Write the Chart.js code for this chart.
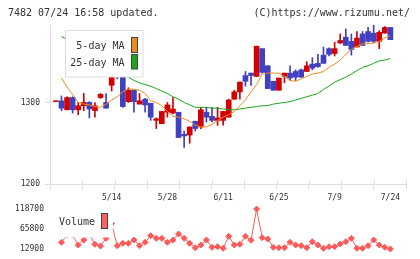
<!DOCTYPE html>
<html>
<head>
<meta charset="utf-8">
<script src="https://cdn.jsdelivr.net/npm/chart.js@4.4.1/dist/chart.umd.min.js"></script>
<style>
  html, body { margin: 0; padding: 0; background: #fff; }
  #wrap { position: relative; width: 420px; height: 259px; overflow: hidden; font-family: 'DejaVu Sans Mono', monospace; }
  #priceBox { position: absolute; left: 0; top: 0; width: 420px; height: 205px; }
  #volBox { position: absolute; left: 0; top: 203px; width: 420px; height: 56px; }
  .head { position: absolute; top: 6px; font-size: 10px; line-height: 13px; color: #333; }
</style>
</head>
<body>
<div id="wrap">
  <div id="priceBox"><canvas id="priceChart"></canvas></div>
  <div id="volBox"><canvas id="volumeChart"></canvas></div>
  <div class="head" style="left:8px">7482 07/24 16:58 updated.</div>
  <div class="head" style="right:10px">(C)https://www.rizumu.net/</div>
</div>
<script>
const dates = ['4/22','4/23','4/24','4/25','4/26','5/7','5/8','5/9','5/10','5/13',
  '5/14','5/15','5/16','5/17','5/20','5/21','5/22','5/23','5/24','5/27',
  '5/28','5/29','5/30','5/31','6/3','6/4','6/5','6/6','6/7','6/10',
  '6/11','6/12','6/13','6/14','6/17','6/18','6/19','6/20','6/21','6/24',
  '6/25','6/26','6/27','6/28','7/1','7/2','7/3','7/4','7/5','7/8',
  '7/9','7/10','7/11','7/12','7/16','7/17','7/18','7/19','7/22','7/23','7/24'];

const open = [1301,1302,1291,1306,1291,1296,1300,1290,1306,1300,
  1321,1336,1333,1301,1315,1298,1304,1299,1278,1274,
  1288,1287,1288,1261,1260,1277,1270,1288,1283,1278,
  1278,1282,1304,1313,1333,1336,1332,1366,1345,1326,
  1315,1332,1336,1338,1340,1338,1347,1348,1358,1366,
  1360,1373,1380,1375,1368,1384,1387,1385,1375,1385,1392];
const high = [1302,1308,1307,1307,1300,1311,1301,1300,1311,1311,
  1344,1342,1334,1318,1315,1311,1305,1299,1281,1289,
  1300,1306,1288,1265,1270,1277,1294,1294,1294,1294,
  1289,1304,1315,1325,1338,1336,1369,1366,1345,1326,
  1330,1336,1345,1340,1341,1350,1355,1359,1368,1367,
  1374,1384,1390,1384,1387,1387,1392,1395,1388,1393,1392];
const low = [1301,1290,1291,1287,1285,1290,1281,1282,1305,1293,
  1314,1329,1294,1300,1288,1298,1288,1278,1268,1274,
  1282,1286,1257,1245,1250,1265,1268,1276,1276,1272,
  1272,1282,1304,1304,1320,1321,1332,1336,1317,1315,
  1315,1324,1327,1327,1331,1338,1340,1343,1348,1357,
  1357,1372,1370,1358,1368,1370,1374,1373,1366,1385,1377];
const close = [1302,1293,1306,1291,1296,1300,1292,1296,1310,1293,
  1336,1334,1295,1315,1301,1302,1297,1282,1280,1289,
  1297,1292,1257,1259,1270,1268,1291,1282,1278,1281,
  1289,1303,1313,1325,1326,1333,1369,1337,1317,1315,
  1330,1336,1330,1331,1331,1345,1342,1344,1348,1359,
  1366,1376,1370,1365,1379,1370,1375,1375,1386,1392,1377];

const ma5 = [null,1330,1319,1310,1300,1298,1297,1295,1294,1298,
  1303,1307,1313,1317,1316,1315,1311,1302,1300,1296,
  1289,1283,1282,1280,1277,1272,1270,1270,1273,1278,
  1282,1285,1289,1296,1303,1313,1322,1335,1336,1336,
  1336,1332,1327,1326,1329,1332,1335,1336,1338,1343,
  1347,1352,1359,1365,1369,1372,1372,1373,1375,1379,1382];
const ma25 = [null,1381,1377,1373,1368,1364,1360,1356,1352,1348,
  1343,1339,1335,1331,1327,1324,1322,1320,1317,1314,
  1311,1307,1304,1300,1297,1294,1294,1294,1293,1293,
  1292,1291,1291,1292,1293,1294,1295,1296,1296,1298,
  1299,1300,1301,1303,1305,1307,1309,1311,1316,1320,
  1325,1328,1331,1335,1339,1343,1345,1348,1351,1352,1354];

const volume = [null,30600,50000,50000,23500,36700,52000,25300,20800,41200,
  80000,21600,28000,28000,36700,21600,30600,48100,41200,41200,
  30600,36700,52600,41200,28000,16300,23500,36700,17400,19000,
  14800,46500,23500,25300,46500,35900,118700,42800,39400,17400,
  16300,16300,30600,23500,21600,16300,32200,23500,14800,19000,
  19000,26100,32200,41200,14800,14800,21600,36700,23500,17400,12900];

const priceTicks = [1200, 1300];
const volumeTicks = [12900, 65800, 118700];
const dateTickIdx = [10, 20, 30, 40, 50, 60];

const UP = '#d40000', DOWN = '#4040c0';
const X_MIN = -1.06, X_MAX = 62.8;

Chart.defaults.font.family = "'DejaVu Sans Mono', monospace";
Chart.defaults.font.size = 8;
Chart.defaults.color = '#333';

// fixed width for the value axes, no extra room asked for the tick labels
const fixAxis = s => { s.width = 50; s.paddingTop = 0; s.paddingBottom = 0; };

// legend boxes drawn on top of the data, like the original
const boxLegend = {
  id: 'boxLegend',
  afterDatasetsDraw(chart, args, opts) {
    const ctx = chart.ctx;
    ctx.save();
    const b = opts.box;
    ctx.fillStyle = '#fff';
    ctx.fillRect(b.x, b.y, b.w, b.h);
    if (b.border) {
      ctx.strokeStyle = b.border;
      ctx.lineWidth = 1;
      ctx.strokeRect(b.x, b.y, b.w, b.h);
    }
    ctx.font = "10px 'DejaVu Sans Mono', monospace";
    ctx.textBaseline = 'middle';
    opts.items.forEach(it => {
      ctx.fillStyle = '#333';
      ctx.textAlign = it.align;
      ctx.fillText(it.text, it.tx, it.ty);
      ctx.fillStyle = it.color;
      ctx.fillRect(it.sx, it.sy, it.sw, it.sh);
      ctx.strokeStyle = '#444';
      ctx.strokeRect(it.sx, it.sy, it.sw, it.sh);
    });
    ctx.restore();
  }
};

// the axis ticks of the original cross the axis line a little
const innerTicks = {
  id: 'innerTicks',
  beforeDatasetsDraw(chart) {
    const ctx = chart.ctx, a = chart.chartArea;
    const xg = chart.scales.xg, y = chart.scales.y;
    ctx.save();
    ctx.strokeStyle = '#dddddd';
    ctx.lineWidth = 1;
    ctx.beginPath();
    xg.ticks.forEach(t => {
      const px = Math.round(xg.getPixelForValue(t.value)) + 0.5;
      ctx.moveTo(px, a.bottom - 4);
      ctx.lineTo(px, a.bottom);
    });
    y.ticks.forEach(t => {
      const py = Math.round(y.getPixelForValue(t.value)) + 0.5;
      ctx.moveTo(a.left, py);
      ctx.lineTo(a.left + 4, py);
    });
    ctx.stroke();
    ctx.restore();
  }
};

const candleColors = close.map((c, i) => c >= open[i] ? UP : DOWN);

new Chart(document.getElementById('priceChart'), {
  type: 'bar',
  data: {
    datasets: [
      { type: 'line', label: '5-day MA', data: ma5.map((v, i) => ({x: i, y: v})),
        borderColor: '#f08c1e', borderWidth: 1, pointRadius: 0, order: 0 },
      { type: 'line', label: '25-day MA', data: ma25.map((v, i) => ({x: i, y: v})),
        borderColor: '#18a818', borderWidth: 1, pointRadius: 0, order: 0 },
      { label: 'body', data: open.map((o, i) => ({x: i, y: [o, close[i]]})),
        backgroundColor: candleColors, barThickness: 5, grouped: false, order: 1 },
      { label: 'wick', data: low.map((l, i) => ({x: i, y: [l, high[i]]})),
        backgroundColor: candleColors, barThickness: 1, grouped: false, order: 2 }
    ]
  },
  options: {
    responsive: true,
    maintainAspectRatio: false,
    animation: false,
    layout: { autoPadding: false, padding: { top: 25, right: 14, left: 0, bottom: 0 } },
    plugins: {
      legend: { display: false },
      tooltip: { enabled: false },
      boxLegend: {
        box: { x: 65.5, y: 30.5, w: 77.5, h: 46.5, border: '#dddddd' },
        items: [
          { text: '5-day MA', align: 'right', tx: 124.5, ty: 46, color: '#f08c1e', sx: 131.5, sy: 37.5, sw: 6, sh: 15 },
          { text: '25-day MA', align: 'right', tx: 124.5, ty: 63, color: '#18a818', sx: 131.5, sy: 54.5, sw: 6, sh: 14.5 }
        ]
      }
    },
    scales: {
      x: {
        type: 'linear', position: 'bottom', min: X_MIN, max: X_MAX, weight: 1, offset: false,
        afterBuildTicks: s => { s.ticks = dateTickIdx.map(v => ({value: v})); },
        afterFit: s => { s.height = 16; },
        grid: { display: false, drawTicks: false, offset: false },
        border: { display: false },
        ticks: { autoSkip: false, maxRotation: 0, padding: 4, callback: v => dates[v] }
      },
      xg: {
        type: 'linear', position: 'bottom', min: 0, max: 11, weight: 0, offset: false,
        afterFit: s => { s.height = 5; },
        grid: { drawOnChartArea: false, tickLength: 5, color: '#dddddd', offset: false },
        border: { color: '#dddddd' },
        ticks: { display: false, stepSize: 1 }
      },
      y: {
        min: 1200, max: 1395, offset: false,
        afterBuildTicks: s => { s.ticks = priceTicks.map(v => ({value: v})); },
        afterFit: fixAxis,
        grid: { drawOnChartArea: false, tickLength: 5, color: '#dddddd' },
        border: { color: '#dddddd' },
        ticks: { padding: 5, callback: v => String(v) }
      }
    }
  },
  plugins: [innerTicks, boxLegend]
});

new Chart(document.getElementById('volumeChart'), {
  type: 'line',
  data: {
    datasets: [{
      label: 'Volume',
      data: volume.map((v, i) => ({x: i, y: v})),
      borderColor: '#ff5a5a', borderWidth: 1,
      pointStyle: 'rectRot', pointRadius: 3, pointBorderWidth: 1,
      pointBackgroundColor: '#ff5a5a', pointBorderColor: '#ff5a5a'
    }]
  },
  options: {
    responsive: true,
    maintainAspectRatio: false,
    animation: false,
    layout: { autoPadding: false, padding: { top: 2, right: 14, left: 0, bottom: 6 } },
    plugins: {
      legend: { display: false },
      tooltip: { enabled: false },
      boxLegend: {
        box: { x: 54, y: 1, w: 59, h: 33.5 },
        items: [
          { text: 'Volume', align: 'left', tx: 59, ty: 19, color: '#ff6060', sx: 101.5, sy: 10.5, sw: 6, sh: 15 }
        ]
      }
    },
    scales: {
      x: { type: 'linear', min: X_MIN, max: X_MAX, display: false, offset: false },
      y: {
        min: 2320, max: 129280, offset: false,
        afterBuildTicks: s => { s.ticks = volumeTicks.map(v => ({value: v})); },
        afterFit: fixAxis,
        grid: { display: false, drawTicks: false },
        border: { display: false },
        ticks: { padding: 6, callback: v => String(v) }
      }
    }
  },
  plugins: [boxLegend]
});
</script>
</body>
</html>
